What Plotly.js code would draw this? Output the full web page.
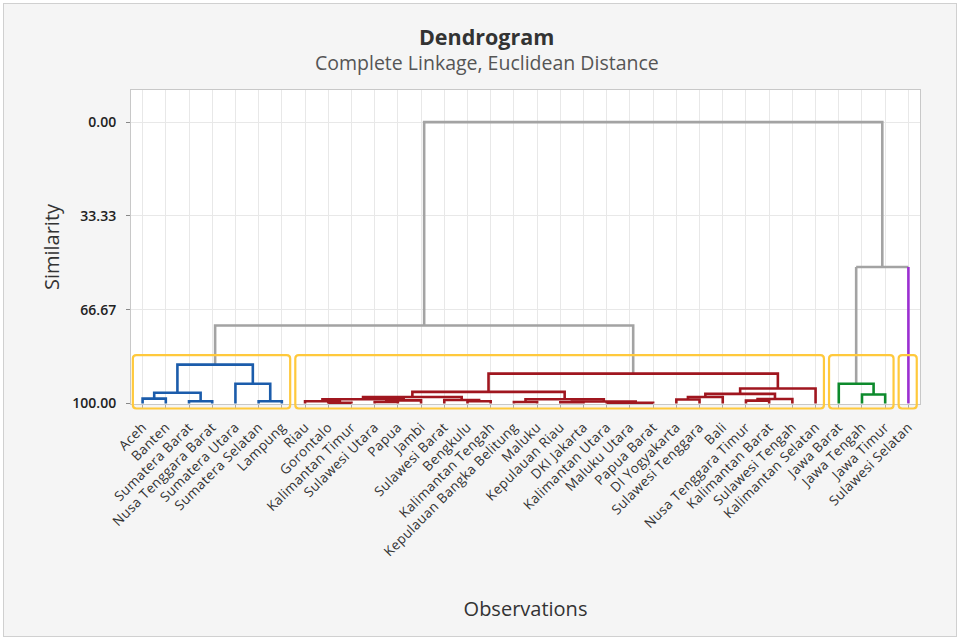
<!DOCTYPE html>
<html><head><meta charset="utf-8">
<script src="https://cdn.plot.ly/plotly-3.0.1.min.js"></script>
<style>
html,body{margin:0;padding:0;background:#ffffff;}
#chart{position:absolute;left:3px;top:3px;width:952px;height:632px;border:1px solid #d0d0d0;}
#chart .xtick text{letter-spacing:0.4px;}
</style></head><body><div id="chart"></div>
<script>
// ---- data ----
const leafLabels = ['Aceh','Banten','Sumatera Barat','Nusa Tenggara Barat','Sumatera Utara','Sumatera Selatan','Lampung',
  'Riau','Gorontalo','Kalimantan Timur','Sulawesi Utara','Papua','Jambi','Sulawesi Barat','Bengkulu','Kalimantan Tengah',
  'Kepulauan Bangka Belitung','Maluku','Kepulauan Riau','DKI Jakarta','Kalimantan Utara','Maluku Utara','Papua Barat',
  'DI Yogyakarta','Sulawesi Tenggara','Bali','Nusa Tenggara Timur','Kalimantan Barat','Sulawesi Tengah','Kalimantan Selatan',
  'Jawa Barat','Jawa Tengah','Jawa Timur','Sulawesi Selatan'];
const leafCluster = [1,1,1,1,1,1,1,
  2,2,2,2,2,2,2,2,2,2,2,2,2,2,2,2,2,2,2,2,2,2,2,
  3,3,3,4];
// merges: node ids 0..33 are leaves, 34.. are merges in this order
const mergeLeft  = [0,2,34,5,4,36, 8,7,10,42,41,14,13,44,16,18,20,50,49,48,47,23,55,26,57,56,59,54, 31,30, 39,63,64];
const mergeRight = [1,3,35,6,37,38, 9,40,11,12,43,15,45,46,17,19,21,22,51,52,53,24,25,27,28,58,29,60, 32,62, 61,33,65];
const mergeSimilarity = [98.3,99.2,96.2,99.2,93.0,86.2,
  99.8,99.2,99.5,98.9,98.5,99.2,98.8,97.7,99.5,99.6,99.9,99.8,99.3,98.5,95.9,98.6,97.7,99.0,98.4,96.6,94.7,89.4,
  96.8,93.0, 72.3,51.5,0.0];
const yTickVals = [0, 33.33, 66.67, 100];
const yTickText = ['0.00','33.33','66.67','100.00'];
const cutSimilarity = 82.8;

// ---- style ----
const clusterColor = {0:'#a3a3a3',1:'#1b5cab',2:'#a0161f',3:'#0d8a2c',4:'#9b2fd1'};
const FONT = "'Open Sans', 'Noto Sans', sans-serif";
const yRange = [100.2, -11.4];

// ---- build dendrogram geometry ----
const nLeaf = leafLabels.length;
const nodeX = [], nodeH = [], nodeC = [];
for (let i = 0; i < nLeaf; i++) { nodeX.push(i); nodeH.push(100); nodeC.push(leafCluster[i]); }
mergeLeft.forEach((l, k) => {
  const r = mergeRight[k];
  nodeX.push((nodeX[l] + nodeX[r]) / 2);
  nodeH.push(mergeSimilarity[k]);
  nodeC.push(nodeC[l] === nodeC[r] ? nodeC[l] : 0);
});
const segs = {};
function add(c, xs, ys) {
  if (!segs[c]) segs[c] = {x: [], y: []};
  segs[c].x.push(...xs, null); segs[c].y.push(...ys, null);
}
mergeLeft.forEach((l, k) => {
  const r = mergeRight[k], m = nLeaf + k;
  const cm = nodeC[m];
  const cl = l < nLeaf ? nodeC[l] : cm;
  const cr = r < nLeaf ? nodeC[r] : cm;
  if (cl === cm && cr === cm) {
    add(cm, [nodeX[l], nodeX[l], nodeX[r], nodeX[r]], [nodeH[l], nodeH[m], nodeH[m], nodeH[r]]);
  } else {
    add(cm, [nodeX[l], nodeX[r]], [nodeH[m], nodeH[m]]);
    add(cl, [nodeX[l], nodeX[l]], [nodeH[l], nodeH[m]]);
    add(cr, [nodeX[r], nodeX[r]], [nodeH[r], nodeH[m]]);
  }
});
const traces = Object.keys(segs).map(c => ({
  type: 'scatter', mode: 'lines', x: segs[c].x, y: segs[c].y,
  line: {color: clusterColor[c], width: 2.6}, hoverinfo: 'skip', showlegend: false
}));

// ---- cluster boxes ----
const toPaper = s => (yRange[0] - s) / (yRange[0] - yRange[1]);
const shapes = [];
[1,2,3,4].forEach(g => {
  const idx = leafCluster.map((c, i) => c === g ? i : -1).filter(i => i >= 0);
  const x0 = Math.min(...idx) - 0.42, x1 = Math.max(...idx) + 0.36;
  const y1 = toPaper(cutSimilarity), y0 = toPaper(101.8);
  const rx = 0.15, ry = 0.011;
  const path = `M ${x0+rx},${y0} L ${x1-rx},${y0} Q ${x1},${y0} ${x1},${y0+ry} L ${x1},${y1-ry} Q ${x1},${y1} ${x1-rx},${y1} ` +
               `L ${x0+rx},${y1} Q ${x0},${y1} ${x0},${y1-ry} L ${x0},${y0+ry} Q ${x0},${y0} ${x0+rx},${y0} Z`;
  shapes.push({type: 'path', xref: 'x', yref: 'paper', path: path, line: {color: '#ffc93c', width: 2.2}, layer: 'above'});
});

const layout = {
  width: 952, height: 632,
  paper_bgcolor: '#f5f5f5', plot_bgcolor: '#ffffff',
  margin: {l: 127, r: 36, t: 86, b: 232},
  font: {family: FONT, color: '#333333'},
  title: {text: '<b>Dendrogram</b>', xref: 'container', x: 0.507, yref: 'container', y: 0.947, yanchor: 'middle',
          font: {family: FONT, size: 21.5, color: '#333333'}},
  annotations: [{text: 'Complete Linkage, Euclidean Distance', xref: 'paper', yref: 'paper', x: 0.4508, y: 1.086,
                 xanchor: 'center', yanchor: 'middle', showarrow: false, font: {family: FONT, size: 19.5, color: '#555555'}}],
  xaxis: {
    range: [-0.5, 33.5], tickmode: 'array', tickvals: leafLabels.map((_, i) => i), ticktext: leafLabels,
    tickangle: -45, tickfont: {family: FONT, size: 13.5, color: '#333333'},
    showgrid: true, gridcolor: '#e8e8e8', zeroline: false,
    showline: true, mirror: true, linecolor: '#c8c8c8', linewidth: 1,
    ticks: 'outside', ticklen: 3, tickcolor: '#aaaaaa', ticklabelstandoff: 6, automargin: false,
    title: {text: 'Observations', standoff: 49, font: {family: FONT, size: 20, color: '#333333'}}
  },
  yaxis: {
    range: yRange, tickmode: 'array', tickvals: yTickVals, ticktext: yTickText,
    tickfont: {family: FONT, size: 14, color: '#222222', weight: 600},
    showgrid: true, gridcolor: '#e8e8e8', zeroline: false,
    showline: true, mirror: true, linecolor: '#c8c8c8', linewidth: 1,
    ticks: 'outside', ticklen: 4, tickcolor: '#888888', ticklabelstandoff: 7, automargin: false,
    title: {text: 'Similarity', standoff: 7, font: {family: FONT, size: 20, color: '#333333'}}
  },
  shapes: shapes
};
Plotly.newPlot('chart', traces, layout, {displayModeBar: false, staticPlot: true});
</script></body></html>
